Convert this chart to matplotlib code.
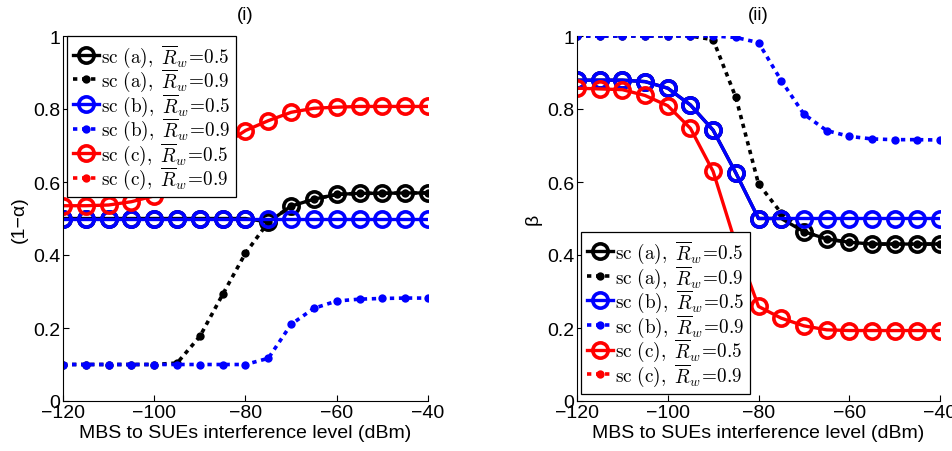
import numpy as np
import matplotlib
matplotlib.use("Agg")
import matplotlib.pyplot as plt

plt.rcParams['font.family'] = ['Liberation Sans', 'DejaVu Sans']
plt.rcParams['mathtext.fontset'] = 'cm'

# x axis: MBS to SUEs interference level (dBm)
x = [-120, -115, -110, -105, -100, -95, -90, -85, -80, -75, -70, -65, -60, -55, -50, -45, -40]
nan = float('nan')

# Panel (i): (1 - alpha)
i_a05 = [0.5, 0.5, 0.5, 0.5, 0.5, 0.5, 0.5, 0.5, 0.5, 0.49, 0.534, 0.553, 0.566, 0.569, 0.569, 0.57, 0.57]
i_a09 = [0.1, 0.1, 0.1, 0.1, 0.1, 0.104, 0.177, 0.292, 0.405, 0.49, 0.534, 0.553, 0.566, 0.569, 0.569, 0.57, 0.57]
i_b05 = [0.5] * 17
i_b09 = [0.1, 0.1, 0.1, 0.1, 0.1, 0.1, 0.1, 0.1, 0.1, 0.117, 0.21, 0.254, 0.274, 0.279, 0.281, 0.282, 0.282]
i_c05 = [0.535, 0.535, 0.537, 0.546, 0.562, 0.59, 0.64, 0.70, 0.741, 0.768, 0.791, 0.802, 0.805, 0.807, 0.807, 0.807, 0.807]
i_c09 = [nan] * 17  # not visible in the reference

# Panel (ii): beta
ii_a05 = [0.879, 0.879, 0.879, 0.875, 0.857, 0.811, 0.742, 0.625, 0.5, 0.5, 0.464, 0.444, 0.435, 0.43, 0.43, 0.43, 0.43]
ii_a09 = [1.0, 1.0, 1.0, 1.0, 1.0, 1.0, 0.99, 0.832, 0.595, 0.515, 0.464, 0.444, 0.435, 0.43, 0.43, 0.43, 0.43]
ii_b05 = [0.879, 0.879, 0.879, 0.875, 0.857, 0.811, 0.742, 0.625, 0.5, 0.5, 0.5, 0.5, 0.5, 0.5, 0.5, 0.5, 0.5]
ii_b09 = [1.0, 1.0, 1.0, 1.0, 1.0, 1.0, 1.0, 0.996, 0.982, 0.878, 0.786, 0.741, 0.725, 0.718, 0.716, 0.716, 0.715]
ii_c05 = [0.857, 0.855, 0.853, 0.837, 0.809, 0.747, 0.629, 0.43, 0.259, 0.227, 0.206, 0.195, 0.193, 0.193, 0.193, 0.193, 0.193]
ii_c09 = [nan] * 17  # not visible in the reference

labels = [r'$\mathrm{sc\ (a),}\ \overline{R}_w\!=\!0.5$',
          r'$\mathrm{sc\ (a),}\ \overline{R}_w\!=\!0.9$',
          r'$\mathrm{sc\ (b),}\ \overline{R}_w\!=\!0.5$',
          r'$\mathrm{sc\ (b),}\ \overline{R}_w\!=\!0.9$',
          r'$\mathrm{sc\ (c),}\ \overline{R}_w\!=\!0.5$',
          r'$\mathrm{sc\ (c),}\ \overline{R}_w\!=\!0.9$']
colors = ['black', 'black', 'blue', 'blue', 'red', 'red']
solid = [True, False, True, False, True, False]

fig = plt.figure(figsize=(9.53, 4.52), dpi=100)
ax1 = fig.add_axes([63/953, 50/452, 365/953, 365/452])
ax2 = fig.add_axes([577/953, 50/452, 363/953, 365/452])

def draw(ax, series, ylabel, title, legend_kw):
    for ys, c, s, lab in zip(series, colors, solid, labels):
        if s:
            ax.plot(x, ys, color=c, lw=2.4, marker='o', markersize=11,
                    markerfacecolor='none', markeredgewidth=2.6, label=lab)
        else:
            ax.plot(x, ys, color=c, lw=2.6, linestyle=(0, (1.2, 1.3)), marker='o',
                    markersize=6, markeredgewidth=0, label=lab)
    ax.set_xlim(-120, -40)
    ax.set_ylim(0, 1)
    ax.set_xticks([-120, -100, -80, -60, -40])
    ax.set_yticks([0, 0.2, 0.4, 0.6, 0.8, 1])
    ax.set_yticklabels(['0', '0.2', '0.4', '0.6', '0.8', '1'])
    for sp in ['top', 'right']:
        ax.spines[sp].set_visible(False)
    for sp in ['left', 'bottom']:
        ax.spines[sp].set_linewidth(0.8)
    ax.tick_params(direction='in', length=4, labelsize=14, width=0.8, pad=2)
    ax.set_xlabel('MBS to SUEs interference level (dBm)', fontsize=14, labelpad=2)
    ax.set_ylabel(ylabel, fontsize=14, labelpad=4)
    ax.set_title(title, fontsize=13.5, pad=12)
    ax.patch.set_alpha(0)
    leg = ax.legend(fontsize=13.8, frameon=True, fancybox=False, edgecolor='black',
                    framealpha=1, handlelength=1.35, handletextpad=0.1,
                    labelspacing=-0.12, borderpad=0.3, borderaxespad=0, **legend_kw)
    leg.get_frame().set_linewidth(0.9)
    for h in leg.legend_handles:
        h.set_clip_on(False)

draw(ax1, [i_a05, i_a09, i_b05, i_b09, i_c05, i_c09], '(1\u2212\u03b1)', '(i)',
     dict(loc='upper left', bbox_to_anchor=(0.012, 1.0)))
draw(ax2, [ii_a05, ii_a09, ii_b05, ii_b09, ii_c05, ii_c09], '\u03b2', '(ii)',
     dict(loc='lower left', bbox_to_anchor=(0.012, 0.02)))

fig.savefig('out.png', dpi=100)
